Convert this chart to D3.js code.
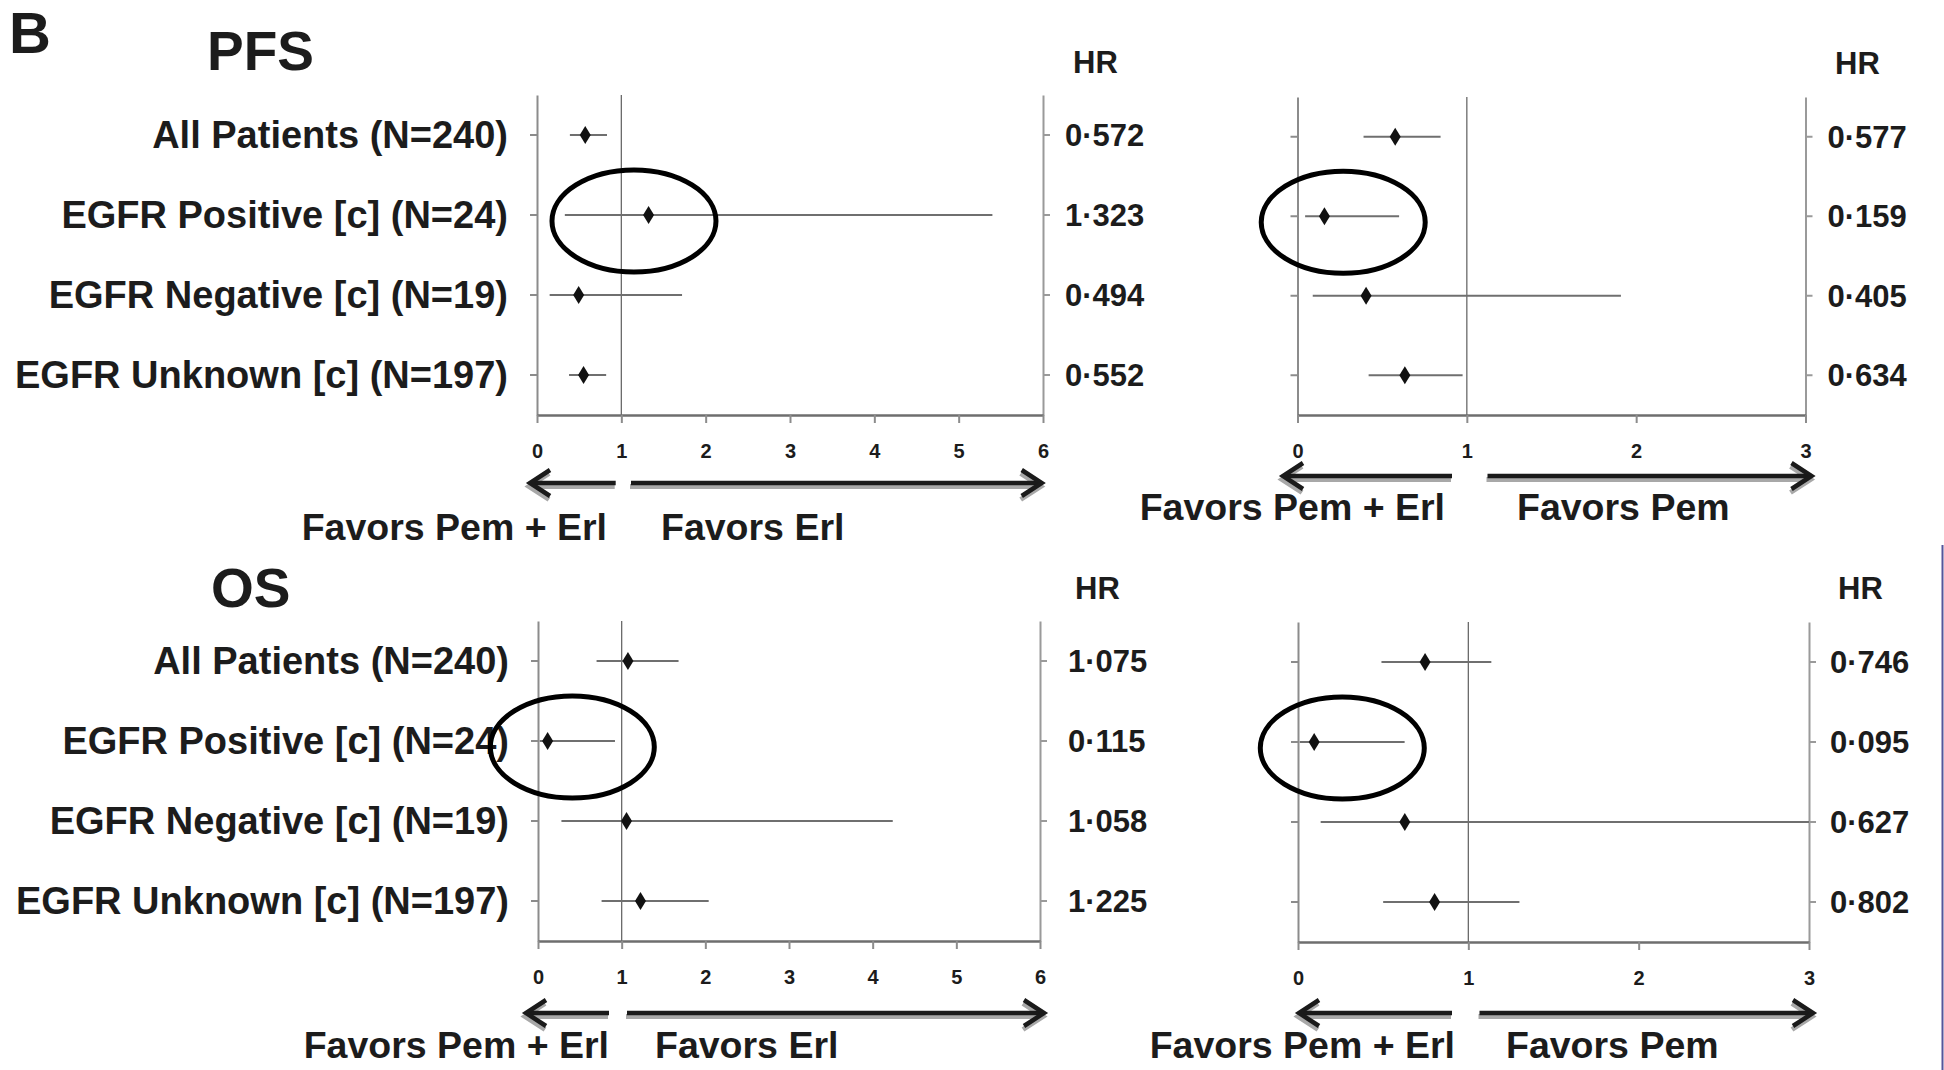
<!DOCTYPE html>
<html><head><meta charset="utf-8">
<script src="https://cdn.jsdelivr.net/npm/d3@7"></script>
<style>html,body{margin:0;padding:0;background:#fff;} svg{display:block;}</style>
</head><body>
<svg id="chart" width="1944" height="1070"></svg>
<script>
// ---------- data ----------
const subgroups = ["All Patients (N=240)", "EGFR Positive [c] (N=24)", "EGFR Negative [c] (N=19)", "EGFR Unknown [c] (N=197)"];

const pfsVsErlHR   = [0.572, 1.323, 0.494, 0.552];
const pfsVsErlLow  = [0.39, 0.33, 0.15, 0.38];
const pfsVsErlHigh = [0.83, 5.40, 1.72, 0.82];

const pfsVsPemHR   = [0.577, 0.159, 0.405, 0.634];
const pfsVsPemLow  = [0.39, 0.045, 0.09, 0.42];
const pfsVsPemHigh = [0.845, 0.60, 1.91, 0.975];

const osVsErlHR   = [1.075, 0.115, 1.058, 1.225];
const osVsErlLow  = [0.70, 0.02, 0.28, 0.76];
const osVsErlHigh = [1.68, 0.92, 4.24, 2.04];

const osVsPemHR   = [0.746, 0.095, 0.627, 0.802];
const osVsPemLow  = [0.49, 0.01, 0.133, 0.50];
const osVsPemHigh = [1.135, 0.626, 3.0, 1.30];

const ticksErl = [0, 1, 2, 3, 4, 5, 6];
const ticksPem = [0, 1, 2, 3];

const favorsCombo = "Favors Pem + Erl";
const favorsErl = "Favors Erl";
const favorsPem = "Favors Pem";
const highlightRow = "EGFR Positive [c] (N=24)";
const highlightCenter = [1.15, 0.27, 0.41, 0.26];   // HR units, per panel

// ---------- layout ----------
const FONT = "'Liberation Sans', Arial, Helvetica, sans-serif";
const NARROW = "'Liberation Sans Narrow', 'Arial Narrow', 'Liberation Sans', Arial, sans-serif";
const INK = "#1c1c1c";

const panels = [
  {hr: pfsVsErlHR, lo: pfsVsErlLow, hi: pfsVsErlHigh, ticks: ticksErl, max: 6,
   x0: 537, x1: 1043, top: 95, bottom: 415, labels: true, valPad: 15, hrX: 1073, hrY: 73,
   arrowY: 483, arrows: [530, 615.7, 631, 1041.7], leftText: [607, 540], rightText: [661, 540], rightLabel: favorsErl},
  {hr: pfsVsPemHR, lo: pfsVsPemLow, hi: pfsVsPemHigh, ticks: ticksPem, max: 3,
   x0: 1297.5, x1: 1805.5, top: 97, bottom: 415, labels: false, valPad: 15, hrX: 1835, hrY: 74,
   arrowY: 476, arrows: [1283, 1452, 1487.5, 1811.5], leftText: [1445, 520], rightText: [1517, 520], rightLabel: favorsPem},
  {hr: osVsErlHR, lo: osVsErlLow, hi: osVsErlHigh, ticks: ticksErl, max: 6,
   x0: 538, x1: 1040, top: 621, bottom: 941, labels: true, valPad: 21, hrX: 1075, hrY: 599,
   arrowY: 1013, arrows: [526, 609, 627, 1044], leftText: [609, 1058], rightText: [655, 1058], rightLabel: favorsErl},
  {hr: osVsPemHR, lo: osVsPemLow, hi: osVsPemHigh, ticks: ticksPem, max: 3,
   x0: 1298, x1: 1809, top: 622, bottom: 942, labels: false, valPad: 14, hrX: 1838, hrY: 599,
   arrowY: 1013, arrows: [1299, 1452, 1479.5, 1813], leftText: [1455, 1058], rightText: [1506, 1058], rightLabel: favorsPem}
];

const svg = d3.select("#chart");
svg.append("rect").attr("width", 1944).attr("height", 1070).attr("fill", "#fff");

// panel letter and titles
svg.append("text").attr("x", 9).attr("y", 53).text("B")
  .attr("font-family", FONT).attr("font-weight", "bold").attr("font-size", 58).attr("fill", INK);
svg.append("text").attr("x", 207).attr("y", 70).text("PFS")
  .attr("font-family", FONT).attr("font-weight", "bold").attr("font-size", 55).attr("fill", INK);
svg.append("text").attr("x", 211).attr("y", 607).text("OS")
  .attr("font-family", FONT).attr("font-weight", "bold").attr("font-size", 55).attr("fill", INK);

const fmtHR = v => d3.format(".3f")(v).replace(".", "\u00B7");

panels.forEach((p, pi) => {
  const g = svg.append("g");
  const x = d3.scaleLinear().domain([0, p.max]).range([p.x0, p.x1]).clamp(true);
  const y = d3.scaleBand().domain(subgroups).range([p.top, p.bottom]);
  const cy = d => y(d) + y.bandwidth() / 2;
  const rows = subgroups.map((s, i) => ({s, hr: p.hr[i], lo: p.lo[i], hi: p.hi[i]}));

  // reference line at HR = 1
  g.append("line").attr("x1", x(1)).attr("x2", x(1)).attr("y1", p.top).attr("y2", p.bottom)
    .attr("stroke", "#6a6a6a").attr("stroke-width", 1.3);

  // left axis with subgroup labels
  const yl = g.append("g").attr("transform", `translate(${p.x0},0)`)
    .call(d3.axisLeft(y).tickSize(7).tickSizeOuter(0).tickPadding(22)
      .tickFormat(p.labels ? (d => d) : () => ""));
  yl.select(".domain").attr("stroke", "#8c8c8c").attr("stroke-width", 2);
  yl.selectAll(".tick line").attr("stroke", "#8c8c8c").attr("stroke-width", 2);
  yl.selectAll(".tick text").attr("font-family", FONT).attr("font-weight", "bold")
    .attr("font-size", 38).attr("fill", INK).attr("dy", "0.34em");

  // right axis with HR values
  const yr = g.append("g").attr("transform", `translate(${p.x1},0)`)
    .call(d3.axisRight(y).tickSize(7).tickSizeOuter(0).tickPadding(p.valPad)
      .tickFormat(d => fmtHR(p.hr[subgroups.indexOf(d)])));
  yr.select(".domain").attr("stroke", "#9a9a9a").attr("stroke-width", 2);
  yr.selectAll(".tick line").attr("stroke", "#9a9a9a").attr("stroke-width", 2);
  yr.selectAll(".tick text").attr("font-family", FONT).attr("font-weight", "bold")
    .attr("font-size", 31).attr("fill", INK).attr("dy", "0.36em");

  g.append("text").attr("x", p.hrX).attr("y", p.hrY).text("HR")
    .attr("font-family", FONT).attr("font-weight", "bold").attr("font-size", 31).attr("fill", INK);

  // bottom axis
  const xa = g.append("g").attr("transform", `translate(0,${p.bottom})`)
    .call(d3.axisBottom(x).tickValues(p.ticks).tickSize(8).tickSizeOuter(0).tickPadding(21)
      .tickFormat(d3.format("d")));
  xa.select(".domain").attr("stroke", "#6e6e6e").attr("stroke-width", 2.5);
  xa.selectAll(".tick line").attr("stroke", "#8c8c8c").attr("stroke-width", 2);
  xa.selectAll(".tick text").attr("font-family", NARROW).attr("font-weight", "bold")
    .attr("font-size", 20).attr("fill", INK);

  // confidence intervals
  g.selectAll(".ci").data(rows).join("line")
    .attr("x1", d => x(d.lo)).attr("x2", d => x(d.hi))
    .attr("y1", d => cy(d.s)).attr("y2", d => cy(d.s))
    .attr("stroke", "#6f6f6f").attr("stroke-width", 2.2);

  // diamonds
  g.selectAll(".pt").data(rows).join("path")
    .attr("d", d => `M${x(d.hr)},${cy(d.s) - 9} L${x(d.hr) + 5.5},${cy(d.s)} L${x(d.hr)},${cy(d.s) + 9} L${x(d.hr) - 5.5},${cy(d.s)} Z`)
    .attr("fill", "#111");

  // highlight ellipse
  g.append("ellipse").attr("cx", x(highlightCenter[pi])).attr("cy", cy(highlightRow) + 6)
    .attr("rx", 82).attr("ry", 51).attr("fill", "none").attr("stroke", "#000").attr("stroke-width", 5);

  // direction arrows
  const [lTip, lTail, rTail, rTip] = p.arrows;
  const ay = p.arrowY;
  const drawArrow = (tail, tip, dx, dy, color, w) => {
    const dir = Math.sign(tip - tail);
    g.append("line").attr("x1", tail + dx).attr("x2", tip + dx - dir * 3).attr("y1", ay + dy).attr("y2", ay + dy)
      .attr("stroke", color).attr("stroke-width", w);
    g.append("path")
      .attr("d", `M${tip - dir * 20 + dx},${ay - 13 + dy} L${tip + dx},${ay + dy} L${tip - dir * 20 + dx},${ay + 13 + dy}`)
      .attr("fill", "none").attr("stroke", color).attr("stroke-width", w)
      .attr("stroke-linejoin", "miter").attr("stroke-linecap", "butt");
  };
  drawArrow(lTail, lTip, -1, 3.5, "#a8a8a8", 5);
  drawArrow(rTail, rTip, -1, 3.5, "#a8a8a8", 5);
  drawArrow(lTail, lTip, 0, 0, "#1a1a1a", 4.5);
  drawArrow(rTail, rTip, 0, 0, "#1a1a1a", 4.5);

  g.append("text").attr("x", p.leftText[0]).attr("y", p.leftText[1]).attr("text-anchor", "end")
    .text(favorsCombo).attr("font-family", FONT).attr("font-weight", "bold").attr("font-size", 37.5).attr("fill", INK);
  g.append("text").attr("x", p.rightText[0]).attr("y", p.rightText[1]).attr("text-anchor", "start")
    .text(p.rightLabel).attr("font-family", FONT).attr("font-weight", "bold").attr("font-size", 37.5).attr("fill", INK);
});

// page edge line at right
svg.append("line").attr("x1", 1942.5).attr("x2", 1942.5).attr("y1", 545).attr("y2", 1070)
  .attr("stroke", "#55559a").attr("stroke-width", 2);
</script>
</body></html>
